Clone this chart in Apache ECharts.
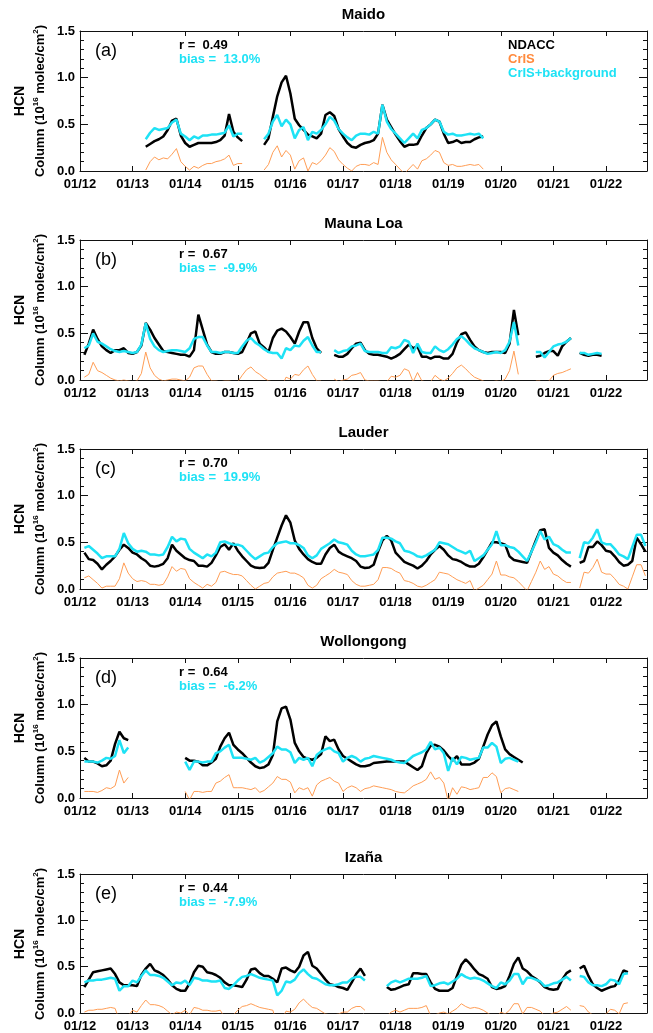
<!DOCTYPE html>
<html>
<head>
<meta charset="utf-8">
<script src="https://cdn.jsdelivr.net/npm/echarts@6/dist/echarts.min.js"></script>
<style>
html, body { margin: 0; padding: 0; background: #fff; }
#main { width: 653px; height: 1033px; }
</style>
</head>
<body>
<div id="main"></div>
<script>
// x values are decimal years, one point per month counted from Jan 2012
var startYear = 2012;
var xTickLabels = ['01/12', '01/13', '01/14', '01/15', '01/16', '01/17', '01/18', '01/19', '01/20', '01/21', '01/22'];
var siteNames = ['Maido', 'Mauna Loa', 'Lauder', 'Wollongong', 'Izaña'];
var panelTags = ['(a)', '(b)', '(c)', '(d)', '(e)'];
var rValues = ['0.49', '0.67', '0.70', '0.64', '0.44'];
var biasValues = ['13.0%', '-9.9%', '19.9%', '-6.2%', '-7.9%'];
var legendNames = ['NDACC', 'CrIS', 'CrIS+background'];

// month index (from Jan 2012) of the first value of each site
var startMonth = [15, 1, 1, 1, 1];

// Maido
var maidoNdacc = [0.26, 0.29, 0.32, 0.34, 0.37, 0.44, 0.54, 0.56, 0.38, 0.30, 0.26, 0.28, 0.30, 0.30, 0.30, 0.30, 0.31, 0.33, 0.38, 0.61, 0.42, 0.36, 0.32,
    null, null, null, null,
    0.28, 0.35, 0.58, 0.80, 0.95, 1.02, 0.83, 0.56, 0.49, 0.44, 0.39, 0.37, 0.35, 0.40, 0.60, 0.63, 0.59, 0.45, 0.37, 0.30, 0.26, 0.25, 0.28, 0.30, 0.31, 0.33, 0.40, 0.71, 0.55, 0.47, 0.39, 0.32, 0.26, 0.28, 0.28, 0.29, 0.38, 0.46, 0.50, 0.55, 0.53, 0.40, 0.30, 0.31, 0.33, 0.30, 0.31, 0.31, 0.34, 0.36, 0.37];
var maidoCris = [0.01, 0.10, 0.15, 0.12, 0.14, 0.13, 0.18, 0.24, 0.10, 0.05, 0.01, 0.05, 0.03, 0.06, 0.08, 0.08, 0.10, 0.11, 0.13, 0.17, 0.06, 0.08, 0.08,
    null, null, null, null,
    0.01, 0.07, 0.20, 0.27, 0.15, 0.22, 0.17, 0.02, 0.11, 0.14, 0.00, 0.09, 0.07, 0.11, 0.17, 0.25, 0.21, 0.12, 0.07, 0.03, 0.00, 0.05, 0.07, 0.07, 0.06, 0.09, 0.07, 0.36, 0.20, 0.12, 0.07, 0.02, -0.03, 0.02, 0.07, 0.02, 0.11, 0.13, 0.17, 0.22, 0.20, 0.09, 0.06, 0.07, 0.05, 0.05, 0.06, 0.07, 0.06, 0.07, 0.02];
var maidoCrisBg = [0.34, 0.41, 0.46, 0.44, 0.45, 0.46, 0.52, 0.55, 0.40, 0.37, 0.33, 0.37, 0.35, 0.38, 0.38, 0.39, 0.39, 0.40, 0.41, 0.49, 0.37, 0.40, 0.40,
    null, null, null, null,
    0.34, 0.40, 0.53, 0.60, 0.48, 0.55, 0.50, 0.35, 0.44, 0.47, 0.33, 0.42, 0.40, 0.44, 0.50, 0.58, 0.54, 0.45, 0.40, 0.36, 0.33, 0.38, 0.40, 0.40, 0.39, 0.42, 0.40, 0.71, 0.53, 0.45, 0.40, 0.35, 0.30, 0.35, 0.40, 0.35, 0.44, 0.46, 0.50, 0.55, 0.53, 0.42, 0.39, 0.40, 0.38, 0.38, 0.39, 0.40, 0.39, 0.40, 0.35];

// Mauna Loa
var maunaNdacc = [0.27, 0.39, 0.54, 0.44, 0.36, 0.32, 0.29, 0.32, 0.32, 0.34, 0.29, 0.28, 0.30, 0.37, 0.61, 0.54, 0.45, 0.38, 0.31, 0.30,
    0.29, 0.28, 0.27, 0.27, 0.25, 0.32, 0.70, 0.54, 0.38, 0.30, 0.28, 0.28, 0.30, 0.30, 0.29, 0.28, 0.30, 0.40, 0.50, 0.52,
    0.39, 0.35, 0.30, 0.45, 0.53, 0.55, 0.52, 0.46, 0.39, 0.52, 0.62, 0.62, 0.45, 0.34, 0.29,
    null, null,
    0.27, 0.25, 0.25, 0.28, 0.34, 0.39, 0.40, 0.32, 0.28, 0.27, 0.27, 0.26, 0.25, 0.23, 0.25, 0.28, 0.33, 0.38, 0.34, 0.36,
    0.25, 0.25, 0.23, 0.25, 0.25, 0.23, 0.23, 0.28, 0.40, 0.49, 0.51, 0.43, 0.36, 0.32, 0.30, 0.29, 0.30, 0.30, 0.30, 0.29,
    0.39, 0.75, 0.48,
    null, null, null,
    0.25, 0.26, 0.29, 0.31, 0.31, 0.26, 0.36, 0.41, 0.45,
    null,
    0.29, 0.27, 0.26, 0.27, 0.27, 0.26];
var maunaCris = [0.03, 0.06, 0.19, 0.10, 0.08, 0.05, 0.02, 0.00, -0.01, 0.00, -0.01, -0.02, -0.01, 0.07, 0.30, 0.13, 0.05, 0.01, -0.01, 0.00,
    0.01, 0.01, 0.00, -0.01, 0.03, 0.13, 0.15, 0.15, 0.06, -0.01, -0.01, -0.02, -0.01, -0.01, -0.02, -0.02, 0.05, 0.11, 0.14, 0.09,
    0.06, 0.02, -0.01, -0.02, -0.02, -0.08, 0.03, 0.01, 0.06, 0.05, 0.11, 0.15, 0.06, -0.01, -0.01,
    null, null,
    0.01, -0.02, 0.00, 0.01, 0.05, 0.06, 0.08, 0.00, -0.01, -0.01, -0.01, -0.02, -0.02, 0.04, 0.03, 0.05, 0.12, 0.10, -0.02, 0.08,
    -0.01, -0.02, -0.02, 0.05, 0.01, -0.01, 0.02, 0.07, 0.13, 0.16, 0.12, 0.07, 0.03, 0.01, -0.01, -0.03, -0.02, -0.01, -0.02, 0.01,
    0.10, 0.31, 0.06,
    null, null, null,
    -0.01, -0.01, -0.07, -0.01, 0.05, 0.07, 0.08, 0.10, 0.12,
    null,
    -0.02, -0.02, -0.04, -0.03, -0.02, -0.03];
var maunaCrisBg = [0.34, 0.37, 0.50, 0.41, 0.39, 0.36, 0.33, 0.31, 0.30, 0.31, 0.30, 0.29, 0.30, 0.38, 0.61, 0.44, 0.36, 0.32, 0.30, 0.31,
    0.32, 0.32, 0.31, 0.30, 0.34, 0.44, 0.46, 0.46, 0.37, 0.30, 0.30, 0.29, 0.30, 0.30, 0.29, 0.29, 0.36, 0.42, 0.45, 0.40,
    0.37, 0.33, 0.30, 0.29, 0.29, 0.23, 0.34, 0.32, 0.37, 0.36, 0.42, 0.46, 0.37, 0.30, 0.30,
    null, null,
    0.32, 0.29, 0.31, 0.32, 0.36, 0.37, 0.39, 0.31, 0.30, 0.30, 0.30, 0.29, 0.29, 0.35, 0.34, 0.36, 0.43, 0.41, 0.29, 0.39,
    0.30, 0.29, 0.29, 0.36, 0.32, 0.30, 0.33, 0.38, 0.44, 0.47, 0.43, 0.38, 0.34, 0.32, 0.30, 0.28, 0.29, 0.30, 0.29, 0.32,
    0.41, 0.62, 0.37,
    null, null, null,
    0.30, 0.30, 0.24, 0.30, 0.36, 0.38, 0.39, 0.41, 0.45,
    null,
    0.29, 0.29, 0.27, 0.28, 0.29, 0.28];

// Lauder
var lauderNdacc = [0.39, 0.32, 0.31, 0.27, 0.21, 0.26, 0.30, 0.35, 0.42, 0.475, 0.44, 0.39, 0.37, 0.33, 0.30, 0.25, 0.24, 0.25, 0.27, 0.33,
    0.475, 0.41, 0.37, 0.33, 0.31, 0.30, 0.25, 0.25, 0.24, 0.28, 0.36, 0.45, 0.48, 0.42, 0.49, 0.41, 0.35, 0.30, 0.25, 0.23,
    0.225, 0.23, 0.28, 0.42, 0.55, 0.68, 0.79, 0.71, 0.52, 0.43, 0.37, 0.32, 0.29, 0.27, 0.27, 0.37, 0.44, 0.475, 0.40, 0.37,
    0.35, 0.33, 0.30, 0.24, 0.225, 0.23, 0.26, 0.40, 0.52, 0.57, 0.52, 0.39, 0.34, 0.29, 0.27, 0.25, 0.22, 0.25, 0.30, 0.37,
    0.42, 0.46, 0.42, 0.36, 0.32, 0.31, 0.29, 0.26, 0.24, 0.24, 0.27, 0.34, 0.42, 0.50, 0.50, 0.49, 0.475, 0.35, 0.31, 0.30,
    0.29, 0.28, 0.40, 0.52, 0.63, 0.64, 0.44, 0.39, 0.36, 0.31, 0.27, 0.24,
    null,
    0.28, 0.30, 0.45, 0.45, 0.51, 0.47, 0.41, 0.40, 0.35, 0.29, 0.25, 0.26, 0.30, 0.55, 0.48, 0.40];
var lauderCris = [0.12, 0.14, 0.10, 0.06, 0.01, 0.03, 0.03, 0.03, 0.11, 0.28, 0.17, 0.11, 0.08, 0.09, 0.08, 0.05, 0.05, 0.04, 0.05, 0.13,
    0.24, 0.19, 0.22, 0.21, 0.11, 0.07, 0.04, 0.01, 0.05, 0.03, 0.07, 0.18, 0.19, 0.17, 0.155, 0.155, 0.14, 0.09, 0.04, 0.00,
    0.03, 0.06, 0.07, 0.13, 0.17, 0.18, 0.19, 0.17, 0.17, 0.15, 0.12, 0.04, 0.01, 0.04, 0.11, 0.14, 0.17, 0.21, 0.18, 0.17,
    0.155, 0.09, 0.05, 0.03, 0.03, 0.04, 0.05, 0.10, 0.23, 0.23, 0.22, 0.19, 0.17, 0.09, 0.08, 0.06, 0.03, 0.02, 0.04, 0.07,
    0.10, 0.18, 0.17, 0.16, 0.13, 0.10, 0.08, 0.06, 0.09, -0.02, 0.01, 0.04, 0.10, 0.16, 0.30, 0.15, 0.15, 0.13, 0.12, 0.08,
    0.03, -0.02, 0.08, 0.18, 0.30, 0.21, 0.24, 0.16, 0.14, 0.10, 0.07, 0.07,
    null,
    0.01, 0.18, 0.17, 0.23, 0.32, 0.18, 0.16, 0.16, 0.11, 0.05, 0.03, 0.00, 0.13, 0.26, 0.26, 0.14];
var lauderCrisBg = [0.44, 0.46, 0.42, 0.38, 0.33, 0.35, 0.35, 0.35, 0.43, 0.60, 0.49, 0.43, 0.40, 0.41, 0.40, 0.37, 0.37, 0.36, 0.37, 0.45,
    0.56, 0.51, 0.54, 0.53, 0.43, 0.39, 0.36, 0.33, 0.37, 0.35, 0.39, 0.50, 0.51, 0.49, 0.475, 0.475, 0.46, 0.41, 0.36, 0.32,
    0.35, 0.38, 0.39, 0.45, 0.49, 0.50, 0.51, 0.49, 0.49, 0.47, 0.44, 0.36, 0.33, 0.36, 0.43, 0.46, 0.49, 0.53, 0.50, 0.49,
    0.475, 0.41, 0.37, 0.35, 0.35, 0.36, 0.37, 0.42, 0.55, 0.55, 0.54, 0.51, 0.49, 0.41, 0.40, 0.38, 0.35, 0.34, 0.36, 0.39,
    0.42, 0.50, 0.49, 0.48, 0.45, 0.42, 0.40, 0.38, 0.41, 0.30, 0.33, 0.36, 0.42, 0.48, 0.62, 0.47, 0.47, 0.45, 0.44, 0.40,
    0.35, 0.30, 0.40, 0.50, 0.62, 0.53, 0.56, 0.48, 0.46, 0.42, 0.39, 0.39,
    null,
    0.33, 0.50, 0.49, 0.55, 0.64, 0.50, 0.48, 0.48, 0.43, 0.37, 0.35, 0.32, 0.45, 0.58, 0.58, 0.46];

// Wollongong
var wollNdacc = [0.43, 0.39, 0.39, 0.37, 0.34, 0.35, 0.40, 0.58, 0.71, 0.64, 0.62,
    null, null, null, null, null, null, null, null, null, null, null, null,
    0.43, 0.40, 0.40, 0.39, 0.35, 0.35, 0.38, 0.42, 0.55, 0.64, 0.70, 0.57, 0.52, 0.48, 0.43, 0.38, 0.34, 0.32, 0.33, 0.36,
    0.46, 0.82, 0.96, 0.98, 0.84, 0.59, 0.50, 0.44, 0.42, 0.41, 0.43, 0.47, 0.66, 0.61, 0.625, 0.52, 0.45, 0.42, 0.39, 0.36,
    0.34, 0.34, 0.35, 0.375, 0.38, 0.385, 0.39, 0.39, 0.39, 0.39, 0.39, 0.36, 0.33, 0.30, 0.34, 0.48, 0.56, 0.57, 0.55, 0.51,
    0.45, 0.40, 0.45, 0.36, 0.36, 0.36, 0.38, 0.42, 0.55, 0.68, 0.78, 0.82, 0.66, 0.52, 0.47, 0.44, 0.41, 0.38];
var wollCris = [0.07, 0.07, 0.07, 0.06, 0.08, 0.11, 0.10, 0.13, 0.30, 0.16, 0.22,
    null, null, null, null, null, null, null, null, null, null, null, null,
    0.07, -0.02, 0.07, 0.07, 0.06, 0.07, 0.07, 0.16, 0.18, 0.22, 0.25, 0.11, 0.11, 0.11, 0.10, 0.09, 0.11, 0.06, 0.08, 0.12,
    0.16, 0.23, 0.20, 0.20, 0.17, 0.055, 0.11, 0.09, 0.11, 0.02, 0.14, 0.18, 0.20, 0.22, 0.18, 0.16, 0.07, 0.11, 0.13, 0.11,
    0.07, 0.10, 0.11, 0.13, 0.12, 0.11, 0.10, 0.09, 0.07, 0.06, 0.055, 0.09, 0.13, 0.15, 0.17, 0.20, 0.28, 0.20, 0.22, 0.16,
    -0.03, 0.11, 0.04, 0.12, 0.11, 0.09, 0.10, 0.11, 0.22, 0.22, 0.27, 0.23, 0.055, 0.10, 0.11, 0.09, 0.07, null];
var wollCrisBg = [0.39, 0.39, 0.39, 0.38, 0.40, 0.43, 0.42, 0.45, 0.62, 0.48, 0.54,
    null, null, null, null, null, null, null, null, null, null, null, null,
    0.39, 0.30, 0.39, 0.39, 0.38, 0.39, 0.39, 0.48, 0.50, 0.54, 0.57, 0.43, 0.43, 0.43, 0.42, 0.41, 0.43, 0.38, 0.40, 0.44,
    0.48, 0.55, 0.52, 0.52, 0.49, 0.375, 0.43, 0.41, 0.43, 0.34, 0.46, 0.50, 0.52, 0.54, 0.50, 0.48, 0.39, 0.43, 0.45, 0.43,
    0.39, 0.42, 0.43, 0.45, 0.44, 0.43, 0.42, 0.41, 0.39, 0.38, 0.375, 0.41, 0.45, 0.47, 0.49, 0.52, 0.60, 0.52, 0.54, 0.48,
    0.29, 0.43, 0.36, 0.44, 0.43, 0.41, 0.42, 0.43, 0.54, 0.54, 0.59, 0.55, 0.375, 0.42, 0.43, 0.41, 0.39, null];

// Izaña
var izanaNdacc = [0.28, 0.36, 0.44, 0.45, 0.46, 0.47, 0.48, 0.42, 0.33, 0.30, 0.30, 0.30, 0.29, 0.41, 0.48, 0.53, 0.46, 0.44, 0.41, 0.36,
    0.30, 0.26, 0.24, 0.24, 0.32, 0.44, 0.51, 0.50, 0.44, 0.43, 0.41, 0.38, 0.33, 0.30, 0.30, 0.29, 0.28, 0.36, 0.47, 0.48,
    0.43, 0.40, 0.40, 0.37, 0.33, 0.48, 0.49, 0.46, 0.44, 0.50, 0.62, 0.66, 0.51, 0.48, 0.42, 0.36, 0.31, 0.30, 0.28, 0.27,
    0.25, 0.33, 0.42, 0.48, 0.40,
    null, null, null, null,
    0.28, 0.25, 0.26, 0.28, 0.30, 0.31, 0.43, 0.43, 0.42, 0.42, 0.33, 0.26, 0.24, 0.24, 0.24, 0.27, 0.40, 0.52, 0.58, 0.53,
    0.47, 0.42, 0.40, 0.37, 0.28, 0.26, 0.27, 0.29, 0.40, 0.53, 0.60, 0.48, 0.45, 0.40, 0.37, 0.33, 0.28, 0.26, 0.25, 0.26,
    0.36, 0.43, 0.46,
    null,
    0.48, 0.51, 0.40, 0.31, 0.27, 0.24, 0.26, 0.28, 0.29, 0.35, 0.46, 0.44];
var izanaCris = [0.01, 0.03, 0.03, 0.04, 0.04, 0.05, 0.06, 0.05, -0.08, -0.03, -0.03, 0.03, 0.01, 0.08, 0.14, 0.09, 0.09, 0.08, 0.06, 0.02,
    -0.02, 0.01, 0.00, 0.03, -0.02, 0.06, 0.05, 0.03, 0.03, 0.02, 0.02, 0.03, -0.05, -0.06, -0.02, 0.03, 0.07, 0.08, 0.10, 0.08,
    0.06, 0.05, 0.04, 0.03, -0.13, -0.08, 0.02, 0.01, 0.04, 0.11, 0.15, 0.10, 0.06, 0.05, 0.02, -0.01, -0.02, -0.02, -0.01, 0.01,
    0.01, 0.05, 0.07, 0.07, 0.03,
    null, null, null, null,
    -0.03, 0.01, 0.03, 0.01, 0.03, 0.05, 0.05, 0.05, 0.06, 0.08, -0.03, -0.02, 0.00, 0.01, -0.01, 0.02, 0.05, 0.10, 0.07, 0.05,
    0.06, 0.05, 0.03, 0.00, -0.03, -0.05, 0.01, -0.01, 0.03, 0.10, 0.10, -0.01, 0.06, 0.06, 0.04, 0.02, -0.03, -0.02, 0.00, 0.01,
    0.04, 0.07, 0.03,
    null,
    0.08, 0.07, 0.01, -0.02, -0.02, -0.03, -0.01, 0.04, 0.03, -0.01, 0.10, 0.11];
var izanaCrisBg = [0.33, 0.35, 0.35, 0.36, 0.36, 0.37, 0.38, 0.37, 0.24, 0.29, 0.29, 0.35, 0.33, 0.40, 0.46, 0.41, 0.41, 0.40, 0.38, 0.34,
    0.30, 0.33, 0.32, 0.35, 0.30, 0.38, 0.37, 0.35, 0.35, 0.34, 0.34, 0.35, 0.27, 0.26, 0.30, 0.35, 0.39, 0.40, 0.42, 0.40,
    0.38, 0.37, 0.36, 0.35, 0.19, 0.24, 0.34, 0.33, 0.36, 0.43, 0.47, 0.42, 0.38, 0.37, 0.34, 0.31, 0.30, 0.30, 0.31, 0.33,
    0.33, 0.37, 0.39, 0.39, 0.35,
    null, null, null, null,
    0.29, 0.33, 0.35, 0.33, 0.35, 0.37, 0.37, 0.37, 0.38, 0.40, 0.29, 0.30, 0.32, 0.33, 0.31, 0.34, 0.37, 0.42, 0.39, 0.37,
    0.38, 0.37, 0.35, 0.32, 0.29, 0.27, 0.33, 0.31, 0.35, 0.42, 0.42, 0.31, 0.38, 0.38, 0.36, 0.34, 0.29, 0.30, 0.32, 0.33,
    0.36, 0.39, 0.35,
    null,
    0.40, 0.39, 0.33, 0.30, 0.30, 0.29, 0.31, 0.36, 0.35, 0.31, 0.42, 0.43];

var ndaccData = [maidoNdacc, maunaNdacc, lauderNdacc, wollNdacc, izanaNdacc];
var crisData = [maidoCris, maunaCris, lauderCris, wollCris, izanaCris];
var crisBgData = [maidoCrisBg, maunaCrisBg, lauderCrisBg, wollCrisBg, izanaCrisBg];

(function () {
    // layout (kept inside a function: a global named "top" would clash with window.top)
    var gridTops = [31, 240, 449, 658, 874];
    var gridH = 140;
    var gridLeft = 80;
    var gridW = 567;
    var xMax = 2022.78;
    var colBlack = '#000000';
    var colOrange = '#ff9d55';
    var colCyan = '#1ee2f5';
    var fontFam = '"Liberation Sans", Arial, Helvetica, sans-serif';

    function toPoints(start, values) {
        return values.map(function (v, i) {
            return [startYear + (start + i) / 12, v];
        });
    }

    function xLabel(v) {
        var k = Math.round(v - startYear);
        if (Math.abs(v - startYear - k) > 1e-6) return '';
        return xTickLabels[k] || '';
    }

    var grids = [], xAxes = [], yAxes = [], series = [], texts = [];
    var n = siteNames.length;
    var i, k;

    for (i = 0; i < n; i++) {
        grids.push({ left: gridLeft, top: gridTops[i], width: gridW, height: gridH });
    }
    // bottom x axes
    for (i = 0; i < n; i++) {
        xAxes.push({
            type: 'value', gridIndex: i, position: 'bottom',
            min: startYear, max: xMax, interval: 1,
            axisLine: { show: true, onZero: false, lineStyle: { color: '#111', width: 1 } },
            axisTick: { show: true, inside: true, length: 5, lineStyle: { color: '#111' } },
            axisLabel: { show: true, margin: 7, formatter: xLabel, color: '#000', fontFamily: fontFam, fontWeight: 'bold', fontSize: 13, showMaxLabel: false },
            splitLine: { show: false }
        });
    }
    // top x axes (ticks only)
    for (i = 0; i < n; i++) {
        xAxes.push({
            type: 'value', gridIndex: i, position: 'top',
            min: startYear, max: xMax, interval: 1,
            axisLine: { show: true, onZero: false, lineStyle: { color: '#111', width: 1 } },
            axisTick: { show: true, inside: true, length: 5, lineStyle: { color: '#111' } },
            axisLabel: { show: false },
            splitLine: { show: false }
        });
    }
    // left y axes
    for (i = 0; i < n; i++) {
        yAxes.push({
            type: 'value', gridIndex: i, position: 'left',
            min: 0, max: 1.5, interval: 0.5,
            axisLine: { show: true, onZero: false, lineStyle: { color: '#111', width: 1 } },
            axisTick: { show: true, inside: true, length: 8, lineStyle: { color: '#111' } },
            minorTick: { show: true, splitNumber: 5, length: 4, lineStyle: { color: '#111' } },
            axisLabel: {
                show: true, margin: 5, color: '#000', fontFamily: fontFam, fontWeight: 'bold', fontSize: 13,
                formatter: function (v) { return v.toFixed(1); }
            },
            splitLine: { show: false }
        });
    }
    // right y axes (ticks only)
    for (i = 0; i < n; i++) {
        yAxes.push({
            type: 'value', gridIndex: i, position: 'right',
            min: 0, max: 1.5, interval: 0.5,
            axisLine: { show: true, onZero: false, lineStyle: { color: '#111', width: 1 } },
            axisTick: { show: true, inside: true, length: 8, lineStyle: { color: '#111' } },
            minorTick: { show: true, splitNumber: 5, length: 4, lineStyle: { color: '#111' } },
            axisLabel: { show: false },
            splitLine: { show: false }
        });
    }

    for (i = 0; i < n; i++) {
        var s0 = startMonth[i];
        series.push({
            name: legendNames[1], type: 'line', xAxisIndex: i, yAxisIndex: i,
            data: toPoints(s0, crisData[i]), showSymbol: false, connectNulls: false,
            lineStyle: { color: colOrange, width: 1 }, itemStyle: { color: colOrange }, z: 2
        });
        series.push({
            name: legendNames[0], type: 'line', xAxisIndex: i, yAxisIndex: i,
            data: toPoints(s0, ndaccData[i]), showSymbol: false, connectNulls: false,
            lineStyle: { color: colBlack, width: 2.5 }, itemStyle: { color: colBlack }, z: 3
        });
        series.push({
            name: legendNames[2], type: 'line', xAxisIndex: i, yAxisIndex: i,
            data: toPoints(s0, crisBgData[i]), showSymbol: false, connectNulls: false,
            lineStyle: { color: colCyan, width: 2.5 }, itemStyle: { color: colCyan }, z: 4
        });
    }

    for (i = 0; i < n; i++) {
        var pTop = gridTops[i];
        var mid = pTop + gridH / 2;
        // panel title
        texts.push({ type: 'text', x: gridLeft + gridW / 2, y: pTop - 16,
            style: { text: siteNames[i], font: 'bold 15px ' + fontFam, fill: '#000', align: 'center', verticalAlign: 'middle' } });
        // panel tag
        texts.push({ type: 'text', x: 95, y: pTop + 20,
            style: { text: panelTags[i], font: '18px ' + fontFam, fill: '#000', align: 'left', verticalAlign: 'middle' } });
        // statistics
        texts.push({ type: 'text', x: 179, y: pTop + 14,
            style: { text: 'r =  ' + rValues[i], font: 'bold 13px ' + fontFam, fill: '#000', align: 'left', verticalAlign: 'middle' } });
        texts.push({ type: 'text', x: 179, y: pTop + 28,
            style: { text: 'bias =  ' + biasValues[i], font: 'bold 13px ' + fontFam, fill: colCyan, align: 'left', verticalAlign: 'middle' } });
        // y axis titles
        texts.push({ type: 'text', x: 20, y: mid, rotation: Math.PI / 2,
            style: { text: 'HCN', font: 'bold 14px ' + fontFam, fill: '#000', align: 'center', verticalAlign: 'middle' } });
        texts.push({ type: 'text', x: 40, y: mid, rotation: Math.PI / 2,
            style: {
                text: '{b|Column (10}{sup|16}{b| molec/cm}{sup|2}{b|)}',
                align: 'center', verticalAlign: 'middle',
                rich: {
                    b: { fontFamily: fontFam, fontWeight: 'bold', fontSize: 13, fill: '#000', lineHeight: 16 },
                    sup: { fontFamily: fontFam, fontWeight: 'bold', fontSize: 8, fill: '#000', verticalAlign: 'top', lineHeight: 16 }
                }
            } });
    }

    // legend text (first panel only)
    var legendColors = [colBlack, '#ff8a3d', colCyan];
    for (k = 0; k < legendNames.length; k++) {
        texts.push({ type: 'text', x: 508, y: gridTops[0] + 14 + k * 14,
            style: { text: legendNames[k], font: 'bold 13px ' + fontFam, fill: legendColors[k], align: 'left', verticalAlign: 'middle' } });
    }

    var myChart = echarts.init(document.getElementById('main'), null, { renderer: 'canvas' });
    var option = {
        backgroundColor: '#ffffff',
        animation: false,
        grid: grids,
        xAxis: xAxes,
        yAxis: yAxes,
        series: series,
        graphic: { elements: texts }
    };
    myChart.setOption(option);
})();
</script>
</body>
</html>
